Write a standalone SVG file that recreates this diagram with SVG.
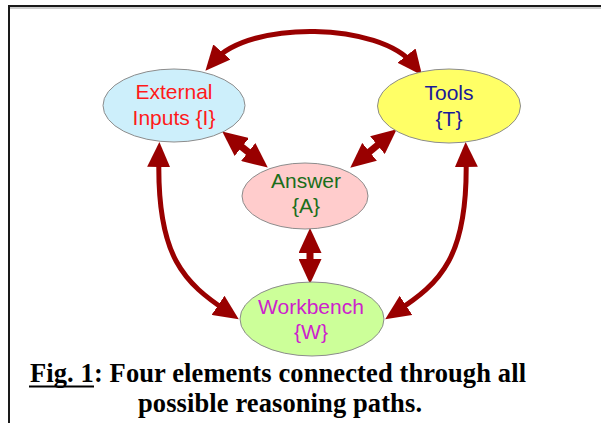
<svg xmlns="http://www.w3.org/2000/svg" width="601" height="423" viewBox="0 0 601 423">
<style>
.node ellipse{stroke:#8c8c8c;stroke-width:1}
.lbl{font-family:"Liberation Sans",Arial,sans-serif;font-size:21px;text-anchor:middle}
.conn path{fill:none;stroke:#990000;marker-start:url(#ah);marker-end:url(#ah)}
.arc{stroke-width:5}
.short{stroke-width:7}
.cap{font-family:"Liberation Serif","Times New Roman",serif;font-size:26.5px;font-weight:bold;fill:#000}
</style>
<defs>
<marker id="ah" markerUnits="userSpaceOnUse" markerWidth="25" markerHeight="23" refX="12" refY="11.5" orient="auto-start-reverse" viewBox="0 0 25 23">
<path d="M0,0 L25,11.5 L0,23 z" fill="#990000"/>
</marker>
</defs>
<rect width="601" height="423" fill="#fff"/>
<g id="frame">
<line x1="8" y1="6" x2="601" y2="6" stroke="#1a1a1a" stroke-width="2"/>
<line x1="8" y1="8" x2="601" y2="8" stroke="#9a9a9a" stroke-width="1"/>
<line x1="9" y1="5" x2="9" y2="423" stroke="#1a1a1a" stroke-width="2"/>
</g>
<g id="connectors" class="conn">
<path class="arc" d="M214,61 C250,20 380,22 414,65"/>
<path class="arc" d="M159,155 C156,258 185,283 228,312"/>
<path class="arc" d="M466,155 C469,258 440,283 396,312"/>
<path class="short" d="M232.4,139.5 L257.6,159.5"/>
<path class="short" d="M386.7,137.6 L360.3,159.4"/>
<path class="short" d="M310,241 L310,271"/>
</g>
<g id="node-external" class="node">
<ellipse cx="174" cy="105.5" rx="71" ry="36.5" fill="#cdeffb"/>
<text class="lbl" x="174" y="99" fill="#ff1a1a">External</text>
<text class="lbl" x="174" y="125" fill="#ff1a1a">Inputs {I}</text>
</g>
<g id="node-tools" class="node">
<ellipse cx="449" cy="106" rx="71.5" ry="37" fill="#ffff66"/>
<text class="lbl" x="449" y="100" fill="#1a1a99">Tools</text>
<text class="lbl" x="449" y="126" fill="#1a1a99">{T}</text>
</g>
<g id="node-answer" class="node">
<ellipse cx="305" cy="196" rx="63" ry="33" fill="#ffcccc"/>
<text class="lbl" x="306" y="188" fill="#1a6e1a">Answer</text>
<text class="lbl" x="306" y="213" fill="#1a6e1a">{A}</text>
</g>
<g id="node-workbench" class="node">
<ellipse cx="312" cy="319" rx="72" ry="37" fill="#ccff99"/>
<text class="lbl" x="311" y="314" fill="#cc22cc">Workbench</text>
<text class="lbl" x="311" y="339" fill="#cc22cc">{W}</text>
</g>
<g id="caption">
<text class="cap" x="30" y="382" textLength="496" lengthAdjust="spacing">Fig. 1: Four elements connected through all</text>
<line x1="29" y1="386.5" x2="94" y2="386.5" stroke="#000" stroke-width="2"/>
<text class="cap" x="138" y="412" textLength="284" lengthAdjust="spacing">possible reasoning paths.</text>
</g>
</svg>
